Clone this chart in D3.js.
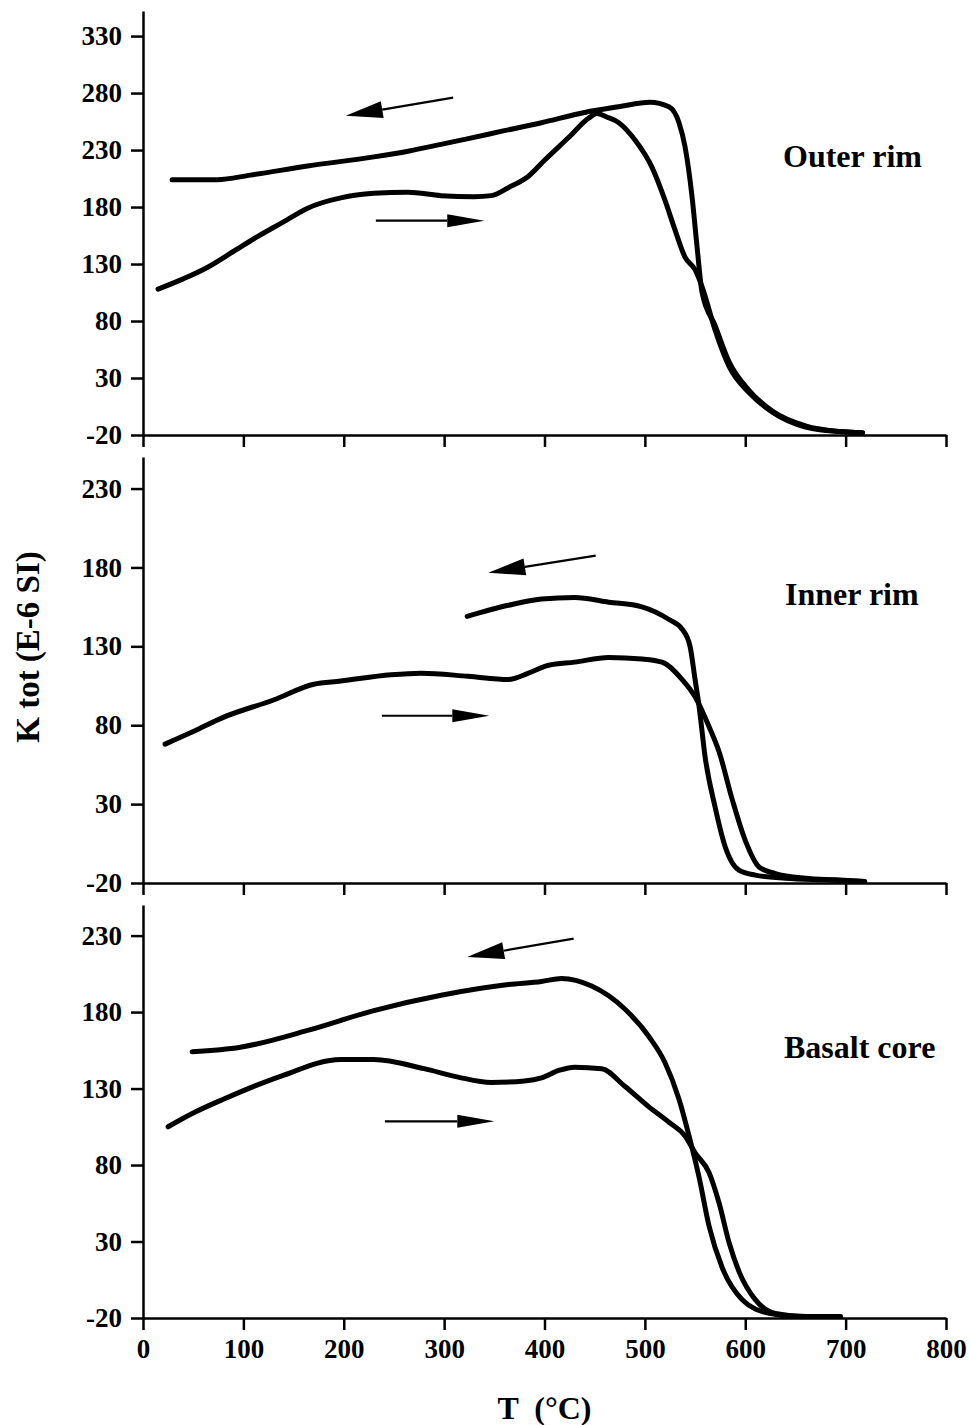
<!DOCTYPE html>
<html>
<head>
<meta charset="utf-8">
<script src="https://cdn.jsdelivr.net/npm/d3@7"></script>
<style>
body { margin:0; background:#fff; }
svg { font-family:"Liberation Serif","Times New Roman",serif; font-weight:bold; }
.axis path, .axis line { stroke:#000; stroke-width:2.5; }
.axis text { font-size:27px; font-weight:bold; fill:#000; font-family:"Liberation Serif",serif; }
</style>
</head>
<body>
<svg width="970" height="1425"></svg>
<script>
// temperature ticks
var tTicks = [0,100,200,300,400,500,600,700,800];

// outer rim
var outerHeatT = [15,40,64,90,114,140,164,197,230,264,297,330,347,364,384,400,424,444,452,462,474,490,507,520,530,540,550,557,570,584,604,627,660,694,717];
var outerHeatK = [108,117,127,141,154,167,179,188,192,193,190,189,190,197,207,221,241,258,262,259,254,239,215,186,160,136,125,110,72,40,17,0,-13,-17,-18];
var outerCoolT = [29,74,107,164,230,264,297,324,360,397,440,474,505,524,534,540,547,552,557,570,584,604,627,660,694,717];
var outerCoolK = [204,204,208,216,224,229,235,240,247,254,263,268,272,268,254,233,189,145,105,76,44,19,1,-12,-17,-18];

// inner rim
var innerHeatT = [22,50,80,130,170,197,247,277,324,364,384,404,430,464,497,517,537,550,564,574,587,600,614,630,660,690,719];
var innerHeatK = [68,76,85,96,106,108,112,113,111,109,113,118,120,123,122,120,109,98,79,63,33,7,-10,-14,-17,-18,-19];
var innerCoolT = [323,364,397,430,464,497,524,537,545,550,554,560,570,580,594,610,640,680,719];
var innerCoolK = [149,156,160,161,158,155,147,141,130,109,92,60,28,3,-12,-15,-17,-18,-19];

// basalt core
var coreHeatT = [25,50,80,137,197,230,280,314,347,380,397,415,430,457,480,504,524,540,550,564,574,584,594,610,630,660,695];
var coreHeatK = [105,114,123,138,149,149,143,137.5,134,135,137,142,144,143,131.5,118,108,99,88,75,55,29,10,-8,-17,-19,-19];
var coreCoolT = [49,97,164,230,297,364,397,417,447,480,504,520,534,544,554,564,577,597,624,650,680];
var coreCoolK = [154,157,168,181,191,198,200,202,197,182,164,147,123,99,72,40,13,-8,-17,-19,-19];

var yTicksOuter = [-20,30,80,130,180,230,280,330];
var yTicksInner = [-20,30,80,130,180,230];

var panels = [
  {name:"Outer rim", top:11, bottom:435, ymax:352, ticks:yTicksOuter,
   heat:[outerHeatT,outerHeatK], cool:[outerCoolT,outerCoolK],
   arrowL:[[309,276],[202,260]], arrowR:[[232,168],[340,168]], label:[640,167]},
  {name:"Inner rim", top:457, bottom:883, ymax:250, ticks:yTicksInner,
   heat:[innerHeatT,innerHeatK], cool:[innerCoolT,innerCoolK],
   arrowL:[[451,187.5],[344,176.7]], arrowR:[[238,86],[345,86]], label:[642,605]},
  {name:"Basalt core", top:905, bottom:1318, ymax:250, ticks:yTicksInner,
   heat:[coreHeatT,coreHeatK], cool:[coreCoolT,coreCoolK],
   arrowL:[[429,228],[323,216]], arrowR:[[241,108.6],[350,108.6]], label:[641,1058]}
];

var svg = d3.select("svg");
svg.append("rect").attr("width",970).attr("height",1425).attr("fill","#fff");

var xScale = d3.scaleLinear().domain([0,800]).range([143,946]);

var zip = function(ts,ks){ return ts.map(function(t,i){ return {t:t,k:ks[i]}; }); };

var drawArrow = function(g,p0,p1,yScale,headLen,headW)
{
  var x0 = xScale(p0[0]), y0 = yScale(p0[1]);
  var x1 = xScale(p1[0]), y1 = yScale(p1[1]);
  var a = Math.atan2(y1-y0,x1-x0);
  var bx = x1 - headLen*Math.cos(a), by = y1 - headLen*Math.sin(a);
  g.append("line")
    .attr("x1",x0).attr("y1",y0).attr("x2",bx).attr("y2",by)
    .attr("stroke","#000").attr("stroke-width",2.2);
  var nx = -Math.sin(a)*headW/2, ny = Math.cos(a)*headW/2;
  g.append("path")
    .attr("d","M"+x1+","+y1+"L"+(bx+nx)+","+(by+ny)+"L"+(bx-nx)+","+(by-ny)+"Z")
    .attr("fill","#000");
}

panels.forEach(function(p,i)
{
  var yScale = d3.scaleLinear().domain([-20,p.ymax]).range([p.bottom,p.top]);
  var g = svg.append("g");

  var yAxis = d3.axisLeft(yScale).tickValues(p.ticks)
    .tickSize(12).tickSizeOuter(0).tickPadding(9)
    .tickFormat(function(d){ return String(d); });
  g.append("g").attr("class","axis")
    .attr("transform","translate(143,0)")
    .call(yAxis);

  var xAxis = d3.axisBottom(xScale).tickValues(tTicks)
    .tickSize(12).tickSizeOuter(0).tickPadding(9)
    .tickFormat(function(d){ return String(d); });
  if (i<2) xAxis.tickFormat(function(){ return ""; });
  g.append("g").attr("class","axis")
    .attr("transform","translate(0,"+p.bottom+")")
    .call(xAxis);

  var line = d3.line()
    .x(function(d){ return xScale(d.t); })
    .y(function(d){ return yScale(d.k); })
    .curve(d3.curveMonotoneX);

  [p.heat,p.cool].forEach(function(s)
  {
    g.append("path")
      .datum(zip(s[0],s[1]))
      .attr("d",line)
      .attr("fill","none")
      .attr("stroke","#000")
      .attr("stroke-width",5)
      .attr("stroke-linejoin","round")
      .attr("stroke-linecap","round");
  });

  drawArrow(g,p.arrowL[0],p.arrowL[1],yScale,37,17);
  drawArrow(g,p.arrowR[0],p.arrowR[1],yScale,37,13);

  g.append("text")
    .attr("x",p.label[0]+143).attr("y",p.label[1])
    .attr("font-size",32)
    .text(p.name);
});

svg.append("text")
  .attr("text-anchor","middle")
  .attr("transform","translate(39,647) rotate(-90)")
  .attr("font-size",33)
  .text("K tot (E-6 SI)");

svg.append("text")
  .attr("text-anchor","middle")
  .attr("x",xScale(400)).attr("y",1419)
  .attr("font-size",32)
  .style("white-space","pre")
  .text("T  (°C)");
</script>
</body>
</html>
